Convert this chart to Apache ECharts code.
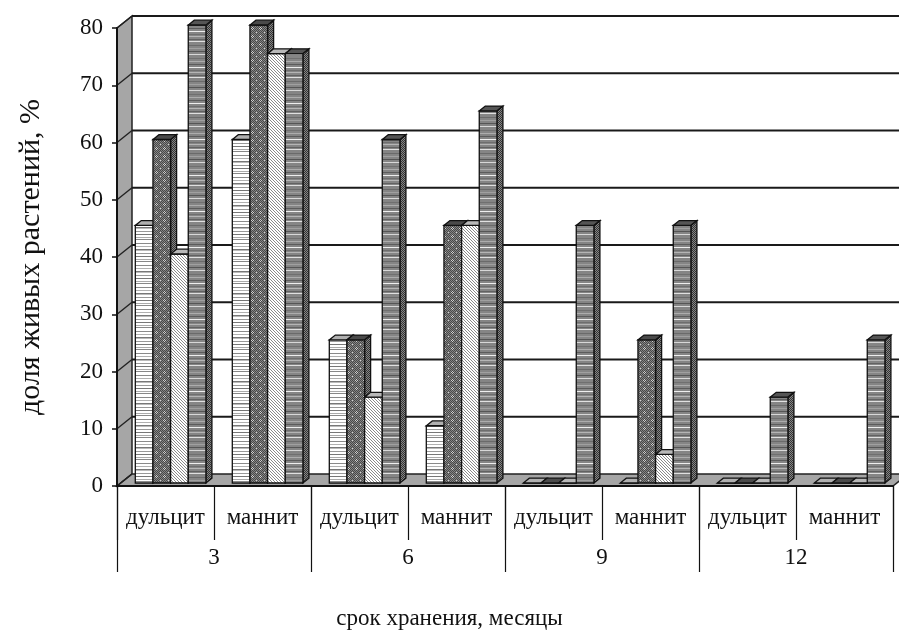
<!DOCTYPE html>
<html>
<head>
<meta charset="utf-8">
<script src="https://cdn.jsdelivr.net/npm/echarts@6/dist/echarts.min.js"></script>
<style>
  html, body { margin: 0; padding: 0; background: #fff; }
  #chart { width: 899px; height: 635px; }
</style>
</head>
<body>
<div id="chart"></div>
<script>
// Categories: two sugar alcohols for each storage period
const categories = ['дульцит', 'маннит', 'дульцит', 'маннит', 'дульцит', 'маннит', 'дульцит', 'маннит'];
const periods = ['3', '6', '9', '12'];
const yTicks = [0, 10, 20, 30, 40, 50, 60, 70, 80];

// Share of surviving plants, % (four variants per category)
const variantA = [45, 60, 25, 10, 0, 0, 0, 0];
const variantB = [60, 80, 25, 45, 0, 25, 0, 0];
const variantC = [40, 75, 15, 45, 0, 5, 0, 0];
const variantD = [80, 75, 60, 65, 45, 45, 15, 25];

const FONT = "'Liberation Serif', 'Times New Roman', serif";

// ---- fill textures ----
function tile(w, h, draw) {
  const c = document.createElement('canvas');
  c.width = w; c.height = h;
  const ctx = c.getContext('2d');
  draw(ctx, w, h);
  return { image: c, repeat: 'repeat' };
}
function rows(ctx, w, list) {
  list.forEach(([y, col]) => { ctx.fillStyle = col; ctx.fillRect(0, y, w, 1); });
}

const fillA = tile(4, 22, (ctx, w, h) => {
  ctx.fillStyle = '#ffffff'; ctx.fillRect(0, 0, w, h);
  rows(ctx, w, [[1, '#8a8a8a'], [4, '#b0b0b0'], [7, '#777'], [8, '#bbb'], [11, '#999'], [14, '#777'], [17, '#aaa'], [19, '#888']]);
});
const fillB = tile(8, 8, (ctx, w, h) => {
  for (let y = 0; y < h; y++) for (let x = 0; x < w; x++) {
    ctx.fillStyle = (x + y) % 2 === 0 ? '#484848' : '#858585';
    ctx.fillRect(x, y, 1, 1);
  }
  ctx.fillStyle = '#cfcfcf';
  [[4, 3], [3, 4], [5, 4], [4, 5], [0, 0]].forEach(([x, y]) => ctx.fillRect(x, y, 1, 1));
});
const fillC = tile(6, 6, (ctx, w, h) => {
  ctx.fillStyle = '#ffffff'; ctx.fillRect(0, 0, w, h);
  for (let y = 0; y < h; y++) for (let x = 0; x < w; x++) {
    if ((x - y + 6) % 3 === 0) { ctx.fillStyle = '#8a8a8a'; ctx.fillRect(x, y, 1, 1); }
  }
});
const fillD = tile(4, 36, (ctx, w, h) => {
  ctx.fillStyle = '#858585'; ctx.fillRect(0, 0, w, h);
  rows(ctx, w, [[0, '#b5b5b5'], [3, '#626262'], [5, '#e0e0e0'], [9, '#6a6a6a'], [12, '#a0a0a0'], [15, '#555'],
    [18, '#d8d8d8'], [22, '#707070'], [25, '#adadad'], [28, '#5c5c5c'], [31, '#eeeeee'], [34, '#6e6e6e']]);
});
const fillSide = tile(4, 4, (ctx, w, h) => {
  for (let y = 0; y < h; y++) for (let x = 0; x < w; x++) {
    ctx.fillStyle = (x + y) % 2 === 0 ? '#333' : '#858585';
    ctx.fillRect(x, y, 1, 1);
  }
});

// depth of the box (back wall offset relative to the front plane)
const DEPTH_X = 15, DEPTH_Y = -12;
const BAR_F0 = 0.25, BAR_F1 = 0.65;

function barRenderer(idx, front, topCol) {
  return function (params, api) {
    const c = api.value(0);
    const v = api.value(1);
    const p0 = api.coord([c, 0]);
    const p1 = api.coord([c, v]);
    const band = api.size([1, 0])[0];
    const bw = band * 0.182;
    const xl = p0[0] - band / 2 + band * 0.15 + idx * bw;
    const xr = xl + bw;
    const ax = DEPTH_X * BAR_F0, ay = DEPTH_Y * BAR_F0;
    const bx = DEPTH_X * BAR_F1, by = DEPTH_Y * BAR_F1;
    const yb = p0[1], yt = p1[1];
    const stroke = { stroke: '#111', lineWidth: 1.3 };
    return {
      type: 'group',
      children: [
        { type: 'polygon', shape: { points: [[xr + ax, yt + ay], [xr + bx, yt + by], [xr + bx, yb + by], [xr + ax, yb + ay]] },
          style: Object.assign({ fill: fillSide }, stroke) },
        { type: 'rect', shape: { x: xl + ax, y: yt + ay, width: bw, height: yb - yt },
          style: Object.assign({ fill: front }, stroke) },
        { type: 'polygon', shape: { points: [[xl + ax, yt + ay], [xr + ax, yt + ay], [xr + bx, yt + by], [xl + bx, yt + by]] },
          style: Object.assign({ fill: topCol }, stroke) }
      ]
    };
  };
}

// walls and floor of the box
function panelRender(params, api) {
  const cs = params.coordSys;
  const x0 = cs.x, x1 = cs.x + cs.width;
  const y0 = api.coord([0, 0])[1];
  const yTop = api.coord([0, yTicks[yTicks.length - 1]])[1];
  return {
    type: 'group',
    children: [
      { type: 'polygon', shape: { points: [[x0, yTop], [x0 + DEPTH_X, yTop + DEPTH_Y], [x0 + DEPTH_X, y0 + DEPTH_Y], [x0, y0]] },
        style: { fill: '#a6a6a6', stroke: '#222', lineWidth: 1.5 } },
      { type: 'polygon', shape: { points: [[x0, y0], [x0 + DEPTH_X, y0 + DEPTH_Y], [x1 + DEPTH_X, y0 + DEPTH_Y], [x1, y0]] },
        style: { fill: '#a6a6a6', stroke: '#222', lineWidth: 1.5 } }
    ]
  };
}
function gridRender(params, api) {
  const cs = params.coordSys;
  const x0 = cs.x, x1 = cs.x + cs.width;
  const y = api.coord([0, api.value(0)])[1];
  const kids = [
    { type: 'line', shape: { x1: x0, y1: y, x2: x0 + DEPTH_X, y2: y + DEPTH_Y }, style: { stroke: '#222', lineWidth: 1.5 } }
  ];
  if (api.value(0) !== 0) {
    kids.push({ type: 'line', shape: { x1: x0 + DEPTH_X, y1: y + DEPTH_Y, x2: x1 + DEPTH_X, y2: y + DEPTH_Y },
      style: { stroke: '#1a1a1a', lineWidth: 2 } });
  }
  return { type: 'group', children: kids };
}

const pairs = vals => vals.map((v, i) => [i, v]);

const chart = echarts.init(document.getElementById('chart'), null, { renderer: 'canvas' });
chart.setOption({
  animation: false,
  backgroundColor: '#ffffff',
  grid: { left: 117, right: 6, top: 28, bottom: 149, containLabel: false },
  xAxis: [
    {
      type: 'category', data: categories, z: 10,
      axisLine: { show: true, lineStyle: { color: '#111', width: 2 } },
      axisTick: { show: true, length: 54, interval: 0, lineStyle: { color: '#111', width: 1.2 } },
      axisLabel: { interval: 0, margin: 20, color: '#111', fontFamily: FONT, fontSize: 23 },
      splitLine: { show: false }
    },
    {
      type: 'category', data: periods, position: 'bottom', z: 10,
      axisLine: { show: false },
      axisTick: { show: true, length: 86, interval: 0, lineStyle: { color: '#111', width: 1.2 } },
      axisLabel: { interval: 0, margin: 60, color: '#111', fontFamily: FONT, fontSize: 23 },
      splitLine: { show: false }
    }
  ],
  yAxis: {
    type: 'value', min: 0, max: 80, interval: 10, z: 10,
    name: 'доля живых растений, %', nameLocation: 'middle', nameGap: 71,
    nameTextStyle: { color: '#111', fontFamily: FONT, fontSize: 30, padding: [0, 0, 0, 0] },
    axisLine: { show: true, lineStyle: { color: '#111', width: 2 } },
    axisTick: { show: true, length: 5, lineStyle: { color: '#111', width: 1.5 } },
    axisLabel: { margin: 14, color: '#111', fontFamily: FONT, fontSize: 23 },
    splitLine: { show: false }
  },
  graphic: [
    { type: 'text', left: 'center', top: 607,
      style: { text: 'срок хранения, месяцы', fill: '#111', font: '23px ' + FONT } }
  ],
  series: [
    { type: 'custom', name: 'panels', data: [[0]], renderItem: panelRender, silent: true, z: 1 },
    { type: 'custom', name: 'grid', data: yTicks.map(v => [v]), renderItem: gridRender, silent: true, z: 1 },
    { type: 'custom', name: 'A', data: pairs(variantA), renderItem: barRenderer(0, fillA, '#b0b0b0'), z: 3 },
    { type: 'custom', name: 'B', data: pairs(variantB), renderItem: barRenderer(1, fillB, '#4a4a4a'), z: 3 },
    { type: 'custom', name: 'C', data: pairs(variantC), renderItem: barRenderer(2, fillC, '#b8b8b8'), z: 3 },
    { type: 'custom', name: 'D', data: pairs(variantD), renderItem: barRenderer(3, fillD, '#555'), z: 3 }
  ]
});
</script>
</body>
</html>
